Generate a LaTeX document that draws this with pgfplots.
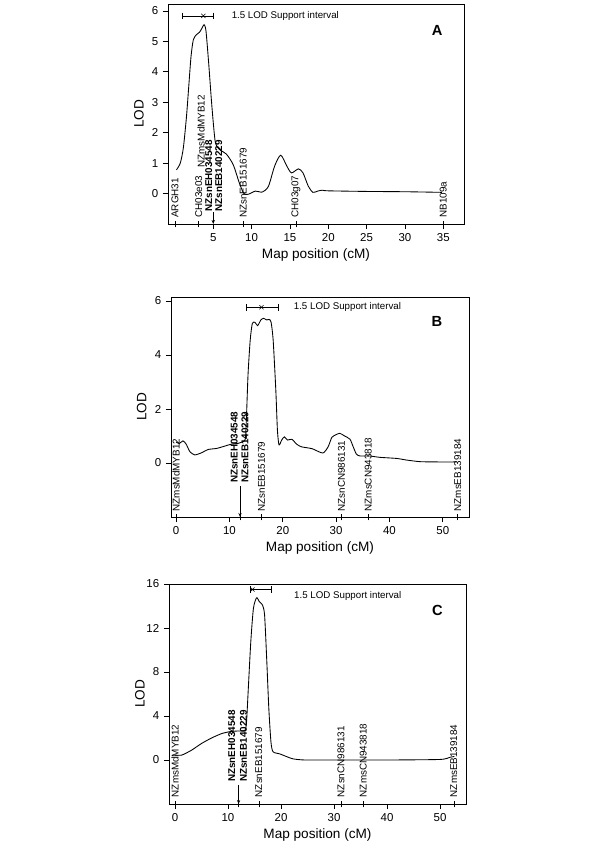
\documentclass[border=0pt]{standalone}
\usepackage{pgfplots}
\pgfplotsset{compat=1.18}
\usetikzlibrary{arrows.meta}
\usepackage{fontspec}
\setmainfont{Liberation Sans}

\newcommand\mk{\fontsize{7.4}{8}\selectfont}
\newcommand\mkb{\fontsize{7.4}{8}\selectfont\bfseries}

\pgfplotsset{lodaxis/.style={
  scale only axis, anchor=south west, height=165pt,
  axis line style={line width=0.7pt},
  tick align=outside, xtick pos=left, ytick pos=left,
  major tick length=3.8pt,
  tick style={black, line width=0.6pt},
  tick label style={font=\fontsize{8.6}{10}\selectfont},
  /pgf/number format/assume math mode=true,
  xlabel={Map position (cM)}, ylabel={LOD},
  label style={font=\fontsize{10.2}{12}\selectfont},
  xlabel style={at={(axis description cs:0.5,-0.14)}, anchor=center},
  ylabel style={at={(axis description cs:-0.098,0.5)}, anchor=center},
  extra tick style={tick align=center, major tick length=5pt},
  extra x tick labels={},
  clip=false,
}}

\begin{document}
\begin{tikzpicture}
\useasboundingbox (0,0) rectangle (450pt,636.75pt);

% ---------------- A ----------------
\begin{axis}[lodaxis, at={(126pt,468.75pt)}, width=222pt,
  xmin=-0.9, xmax=37.7, ymin=-1, ymax=6.23,
  xtick={5,10,...,35}, ytick={0,1,...,6},
  extra x ticks={0,3.1,8.9,15.8,35}]
\addplot[black, line width=0.65pt, smooth, tension=0.45] coordinates {
 (0.2,0.78) (0.7,1.0) (1.1,1.5) (1.5,2.5) (1.8,3.5) (2.1,4.5) (2.4,5.05)
 (2.8,5.22) (3.2,5.3) (3.5,5.42) (3.8,5.55) (4.05,5.35) (4.4,4.3) (4.75,3.1)
 (5.05,2.2) (5.3,1.65) (5.8,1.45) (6.7,1.3) (7.6,0.95) (8.4,0.35) (9.0,0.0)
 (9.6,-0.02) (10.5,0.08) (11.4,0.05) (12.2,0.24) (13.0,0.9) (13.8,1.26)
 (14.6,0.9) (15.2,0.68) (16.1,0.81) (16.7,0.68) (17.4,0.24) (18.0,0.04)
 (18.6,0.08) (19.2,0.11) (20,0.09) (25,0.07) (30,0.06) (34.8,0.04)};
\addplot[black, line width=0.5pt, mark=|, mark size=2.5pt] coordinates {(0.95,5.84) (5.0,5.84)};
\addplot[black, only marks, mark=x, mark size=2.2pt] coordinates {(3.7,5.84)};
\node[anchor=west, font=\fontsize{7.3}{8}\selectfont] at (axis cs:6.8,5.84) {1.5 LOD Support interval};
\node[font=\fontsize{11}{13}\selectfont\bfseries] at (axis cs:34.2,5.35) {A};
\node[rotate=90, anchor=west, inner sep=0pt, font=\mk] at (axis cs:0,-0.8) {ARGH31};
\node[rotate=90, anchor=west, inner sep=0pt, font=\mk] at (axis cs:3.1,-0.8) {CH03e03};
\node[rotate=90, anchor=west, inner sep=0pt, font=\mk] at (axis cs:3.4,0.85) {NZmsMdMYB12};
\node[rotate=90, anchor=west, inner sep=0pt, font=\mkb] at (axis cs:4.4,-0.6) {NZsnEH034548};
\node[rotate=90, anchor=west, inner sep=0pt, font=\mkb] at (axis cs:5.7,-0.6) {NZsnEB140229};
\node[rotate=90, anchor=west, inner sep=0pt, font=\mk] at (axis cs:8.9,-0.8) {NZsnEB151679};
\node[rotate=90, anchor=west, inner sep=0pt, font=\mk] at (axis cs:15.8,-0.8) {CH03g07};
\node[rotate=90, anchor=west, inner sep=0pt, font=\mk] at (axis cs:35,-0.8) {NB109a};
\draw[line width=0.5pt, -{Stealth[length=3pt,width=2.4pt]}] (axis cs:5,-0.62) -- (axis cs:5,-1);
\end{axis}

% ---------------- B ----------------
\begin{axis}[lodaxis, at={(128.25pt,249pt)}, width=223.5pt,
  xmin=-0.94, xmax=54.9, ymin=-2, ymax=6.15,
  xtick={0,10,...,50}, ytick={0,2,4,6},
  extra x ticks={0,12,16,31,36,52.8}]
\addplot[black, line width=0.65pt, smooth, tension=0.4] coordinates {
 (0,0.78) (0.6,0.72) (1.3,0.82) (1.9,0.7) (2.6,0.42) (3.5,0.3) (4.8,0.38)
 (6,0.5) (7.6,0.54) (9.2,0.63) (10.4,0.7) (11.7,0.73) (12.6,0.8) (13.0,0.9)
 (13.2,1.7) (13.5,3.3) (13.9,4.55) (14.3,5.17) (14.8,5.21) (15.3,5.09)
 (15.9,5.3) (16.4,5.36) (17.0,5.3) (17.4,5.32) (17.8,5.23) (18.2,4.56)
 (18.7,2.7) (19.0,1.22) (19.3,0.67) (19.8,0.85) (20.3,0.97) (20.9,0.85)
 (21.7,0.88) (22.6,0.7) (23.5,0.6) (25.5,0.53) (27.5,0.37) (28.5,0.6)
 (29.2,0.95) (30.0,1.05) (30.7,1.1) (31.6,1.0) (32.6,0.88) (33.2,0.6)
 (33.8,0.33) (34.5,0.26) (36.3,0.26) (38.2,0.21) (41.3,0.17) (43.2,0.11)
 (45.7,0.05) (48.8,0.04) (52.6,0.04)};
\addplot[black, line width=0.5pt, mark=|, mark size=2.5pt] coordinates {(13.1,5.77) (19.2,5.77)};
\addplot[black, only marks, mark=x, mark size=2.2pt] coordinates {(16.0,5.77)};
\node[anchor=west, font=\fontsize{7.3}{8}\selectfont] at (axis cs:21.2,5.77) {1.5 LOD Support interval};
\node[font=\fontsize{11}{13}\selectfont\bfseries] at (axis cs:48.9,5.23) {B};
\node[rotate=90, anchor=west, inner sep=0pt, font=\mk] at (axis cs:0,-1.8) {NZmsMdMYB12};
\node[rotate=90, anchor=west, inner sep=0pt, font=\mkb] at (axis cs:10.9,-0.75) {NZsnEH034548};
\node[rotate=90, anchor=west, inner sep=0pt, font=\mkb] at (axis cs:12.9,-0.75) {NZsnEB140229};
\node[rotate=90, anchor=west, inner sep=0pt, font=\mk] at (axis cs:16,-1.8) {NZsnEB151679};
\node[rotate=90, anchor=west, inner sep=0pt, font=\mk] at (axis cs:31,-1.8) {NZsnCN986131};
\node[rotate=90, anchor=west, inner sep=0pt, font=\mk] at (axis cs:36,-1.8) {NZmsCN943818};
\node[rotate=90, anchor=west, inner sep=0pt, font=\mk] at (axis cs:52.8,-1.8) {NZmsEB139184};
\draw[line width=0.5pt, -{Stealth[length=3pt,width=2.4pt]}] (axis cs:12,-0.85) -- (axis cs:12,-2);
\end{axis}

% ---------------- C ----------------
\begin{axis}[lodaxis, at={(126.75pt,33.75pt)}, width=222.75pt,
  xmin=-1.13, xmax=54.9, ymin=-4, ymax=16,
  xtick={0,10,...,50}, ytick={0,4,...,16},
  extra x ticks={0,12,16,31.4,35.5,52.8}]
\addplot[black, line width=0.65pt, smooth, tension=0.4] coordinates {
 (0,0.45) (1.3,0.45) (3.15,0.9) (5,1.5) (6.9,2.0) (8.8,2.4) (10.4,2.58)
 (11.9,2.64) (13.2,2.7) (13.5,3.5) (13.8,6.2) (14.3,10.75) (14.8,13.8)
 (15.4,14.75) (15.9,14.4) (16.5,14.1) (16.9,13.2) (17.3,9.2) (17.7,4.7)
 (18.1,1.66) (18.5,0.75) (19.8,0.55) (21.1,0.3) (22.3,0.1) (24.5,0.0)
 (30,0) (40,0) (50,0.05) (51.9,0.25) (52.7,0.32)};
\addplot[black, line width=0.5pt, mark=|, mark size=2.5pt] coordinates {(14.2,15.5) (18.1,15.5)};
\addplot[black, only marks, mark=x, mark size=2.2pt] coordinates {(14.6,15.5)};
\node[anchor=west, font=\fontsize{7.3}{8}\selectfont] at (axis cs:21.6,14.9) {1.5 LOD Support interval};
\node[font=\fontsize{11}{13}\selectfont\bfseries] at (axis cs:49.5,13.6) {C};
\node[rotate=90, anchor=west, inner sep=0pt, font=\mk] at (axis cs:0,-3.4) {NZmsMdMYB12};
\node[rotate=90, anchor=west, inner sep=0pt, font=\mkb] at (axis cs:10.7,-2.0) {NZsnEH034548};
\node[rotate=90, anchor=west, inner sep=0pt, font=\mkb] at (axis cs:12.9,-2.0) {NZsnEB140229};
\node[rotate=90, anchor=west, inner sep=0pt, font=\mk] at (axis cs:15.8,-3.4) {NZsnEB151679};
\node[rotate=90, anchor=west, inner sep=0pt, font=\mk] at (axis cs:31.3,-3.4) {NZsnCN986131};
\node[rotate=90, anchor=west, inner sep=0pt, font=\mk] at (axis cs:35.5,-3.4) {NZmsCN943818};
\node[rotate=90, anchor=west, inner sep=0pt, font=\mk] at (axis cs:52.6,-3.4) {NZmsEB139184};
\draw[line width=0.5pt, -{Stealth[length=3pt,width=2.4pt]}] (axis cs:12,-2.3) -- (axis cs:12,-4);
\end{axis}
\end{tikzpicture}
\end{document}
